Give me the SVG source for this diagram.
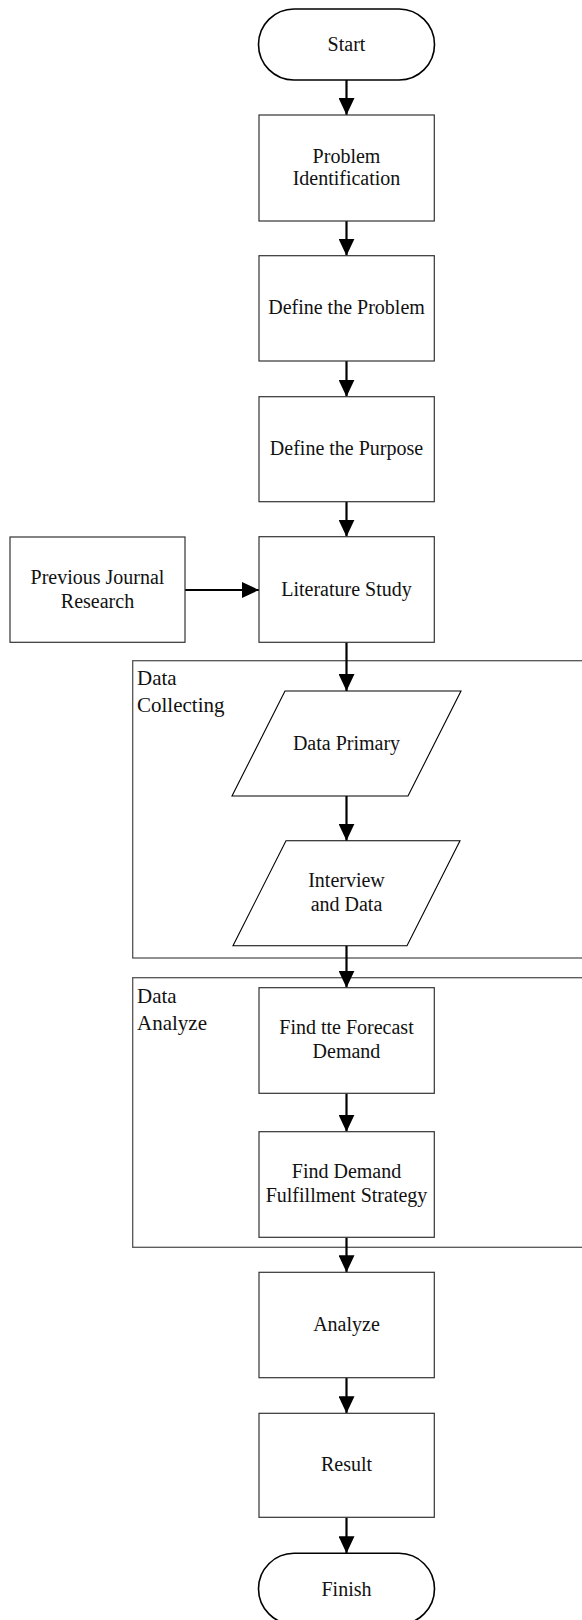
<svg xmlns="http://www.w3.org/2000/svg" width="582" height="1620" viewBox="0 0 582 1620">
  <defs>
    <marker id="arrow" markerUnits="userSpaceOnUse" markerWidth="17" markerHeight="16" refX="17" refY="8" orient="auto">
      <path d="M0,0 L17,8 L0,16 Z" fill="#000"/>
    </marker>
    <style>
      .box { fill: #fff; stroke: #333; stroke-width: 1.2; }
      .term { fill: #fff; stroke: #000; stroke-width: 1.6; }
      .para { fill: #fff; stroke: #000; stroke-width: 1.1; }
      .cont { fill: none; stroke: #555; stroke-width: 1.3; }
      .t { font-family: "Liberation Serif", "Times New Roman", serif; font-size: 20px; fill: #111; text-anchor: middle; }
      .lbl { font-family: "Liberation Serif", "Times New Roman", serif; font-size: 21px; fill: #111; }
      .conn { stroke: #000; stroke-width: 2.2; fill: none; marker-end: url(#arrow); }
    </style>
  </defs>
  <rect width="582" height="1620" fill="#fff"/>

  <g id="data-collecting">
    <rect class="cont" x="132.7" y="660.7" width="470" height="297.3"/>
    <text class="lbl" x="137" y="685">Data</text>
    <text class="lbl" x="137" y="712">Collecting</text>
  </g>
  <g id="data-analyze">
    <rect class="cont" x="132.7" y="977.7" width="470" height="269.6"/>
    <text class="lbl" x="137" y="1003">Data</text>
    <text class="lbl" x="137" y="1030">Analyze</text>
  </g>

  <g id="connectors">
    <line class="conn" x1="346.5" y1="80" x2="346.5" y2="115"/>
    <line class="conn" x1="346.5" y1="221" x2="346.5" y2="255.7"/>
    <line class="conn" x1="346.5" y1="361" x2="346.5" y2="396.7"/>
    <line class="conn" x1="346.5" y1="501.7" x2="346.5" y2="536.7"/>
    <line class="conn" x1="185" y1="590" x2="259" y2="590"/>
    <line class="conn" x1="346.5" y1="642.3" x2="346.5" y2="691"/>
    <line class="conn" x1="346.5" y1="796" x2="346.5" y2="840.7"/>
    <line class="conn" x1="346.5" y1="945.7" x2="346.5" y2="987.7"/>
    <line class="conn" x1="346.5" y1="1093.3" x2="346.5" y2="1131.7"/>
    <line class="conn" x1="346.5" y1="1237.3" x2="346.5" y2="1272.3"/>
    <line class="conn" x1="346.5" y1="1377.7" x2="346.5" y2="1413.3"/>
    <line class="conn" x1="346.5" y1="1517.3" x2="346.5" y2="1553.3"/>
  </g>

  <g id="start">
    <rect class="term" x="258.5" y="9" width="176" height="71" rx="35.5" ry="35.5"/>
    <text class="t" x="346.5" y="51">Start</text>
  </g>
  <g id="problem-identification">
    <rect class="box" x="259" y="115" width="175.3" height="106"/>
    <text class="t" x="346.5" y="163">Problem</text>
    <text class="t" x="346.5" y="185">Identification</text>
  </g>
  <g id="define-problem">
    <rect class="box" x="259" y="255.7" width="175.3" height="105.3"/>
    <text class="t" x="346.5" y="314">Define the Problem</text>
  </g>
  <g id="define-purpose">
    <rect class="box" x="259" y="396.7" width="175.3" height="105"/>
    <text class="t" x="346.5" y="455">Define the Purpose</text>
  </g>
  <g id="previous-journal">
    <rect class="box" x="10" y="537" width="175" height="105.3"/>
    <text class="t" x="97.5" y="583.5">Previous Journal</text>
    <text class="t" x="97.5" y="607.5">Research</text>
  </g>
  <g id="literature-study">
    <rect class="box" x="259" y="536.7" width="175.3" height="105.6"/>
    <text class="t" x="346.5" y="596">Literature Study</text>
  </g>
  <g id="data-primary">
    <polygon class="para" points="285,691 461,691 408,796 232,796"/>
    <text class="t" x="346.5" y="750">Data Primary</text>
  </g>
  <g id="interview-data">
    <polygon class="para" points="286,840.7 460,840.7 407,945.7 233,945.7"/>
    <text class="t" x="346.5" y="887">Interview</text>
    <text class="t" x="346.5" y="911">and Data</text>
  </g>
  <g id="forecast-demand">
    <rect class="box" x="259" y="987.7" width="175.3" height="105.6"/>
    <text class="t" x="346.5" y="1034">Find tte Forecast</text>
    <text class="t" x="346.5" y="1058">Demand</text>
  </g>
  <g id="fulfillment-strategy">
    <rect class="box" x="259" y="1131.7" width="175.3" height="105.6"/>
    <text class="t" x="346.5" y="1178">Find Demand</text>
    <text class="t" x="346.5" y="1202">Fulfillment Strategy</text>
  </g>
  <g id="analyze">
    <rect class="box" x="259" y="1272.3" width="175.3" height="105.4"/>
    <text class="t" x="346.5" y="1331">Analyze</text>
  </g>
  <g id="result">
    <rect class="box" x="259" y="1413.3" width="175.3" height="104"/>
    <text class="t" x="346.5" y="1471">Result</text>
  </g>
  <g id="finish">
    <rect class="term" x="258.5" y="1553.3" width="176" height="71" rx="35.5" ry="35.5"/>
    <text class="t" x="346.5" y="1596">Finish</text>
  </g>
</svg>
